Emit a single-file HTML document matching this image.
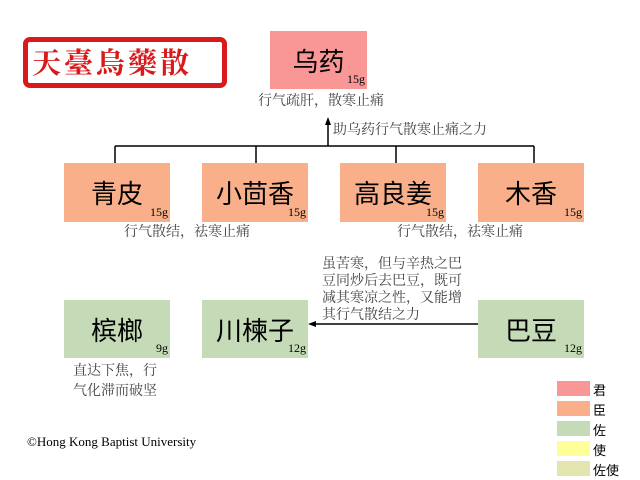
<!DOCTYPE html>
<html><head><meta charset="utf-8"><style>
body{margin:0;width:640px;height:480px;background:#fff;position:relative;overflow:hidden;font-family:"Liberation Serif","Noto Serif CJK SC",serif}
.b{position:absolute;font-family:"Liberation Sans","Noto Sans CJK SC",sans-serif;font-size:26px;color:#000;display:flex;align-items:center;justify-content:center}
.g{position:absolute;right:2px;bottom:2px;font-family:"Liberation Serif",serif;font-size:12px}
.t{position:absolute;font-size:14px;color:#444;font-family:"Liberation Serif","Noto Serif CJK SC",serif;line-height:20px;white-space:nowrap}
.r{background:#f99696}.o{background:#f9b08a}.gr{background:#c5dab6}
.l{position:absolute;left:557px;width:33px;height:15px}
.lt{position:absolute;left:593px;font-size:13px;font-family:"Liberation Sans","Noto Sans CJK SC",sans-serif}
</style></head><body>
<div style="position:absolute;left:23px;top:37px;width:204px;height:51px;border:5px solid #d81a1a;border-radius:7px;box-sizing:border-box"></div>
<div style="position:absolute;left:32px;top:42px;width:190px;height:40px;font-family:'Noto Serif CJK SC',serif;font-size:29px;font-weight:bold;color:#d81a1a;letter-spacing:3px;line-height:40px">天臺烏藥散</div>
<div class="b r" style="left:270px;top:31px;width:97px;height:58px">乌药<span class="g">15g</span></div>
<div class="t" style="left:258px;top:92px">行气疏肝，散寒止痛</div>
<svg style="position:absolute;left:0;top:0" width="640" height="480">
<g stroke="#000" stroke-width="1.5" fill="none">
<line x1="328" y1="146" x2="328" y2="124"/>
<line x1="115" y1="146" x2="534" y2="146"/>
<line x1="115" y1="146" x2="115" y2="163"/><line x1="256" y1="146" x2="256" y2="163"/>
<line x1="396" y1="146" x2="396" y2="163"/><line x1="534" y1="146" x2="534" y2="163"/>
<line x1="478" y1="324" x2="314" y2="324"/>
</g>
<polygon points="328,117 325,125 331,125" fill="#000"/>
<polygon points="308,324 316,321 316,327" fill="#000"/>
</svg>
<div class="t" style="left:333px;top:121px">助乌药行气散寒止痛之力</div>
<div class="b o" style="left:64px;top:163px;width:106px;height:59px">青皮<span class="g">15g</span></div>
<div class="b o" style="left:202px;top:163px;width:106px;height:59px">小茴香<span class="g">15g</span></div>
<div class="b o" style="left:340px;top:163px;width:106px;height:59px">高良姜<span class="g">15g</span></div>
<div class="b o" style="left:478px;top:163px;width:106px;height:59px">木香<span class="g">15g</span></div>
<div class="t" style="left:124px;top:223px">行气散结，祛寒止痛</div>
<div class="t" style="left:397px;top:223px">行气散结，祛寒止痛</div>
<div class="t" style="left:322px;top:256px;line-height:17px">虽苦寒，但与辛热之巴<br>豆同炒后去巴豆，既可<br>减其寒凉之性，又能增<br>其行气散结之力</div>
<div class="b gr" style="left:64px;top:300px;width:106px;height:58px">槟榔<span class="g">9g</span></div>
<div class="b gr" style="left:202px;top:300px;width:106px;height:58px">川楝子<span class="g">12g</span></div>
<div class="b gr" style="left:478px;top:300px;width:106px;height:58px">巴豆<span class="g">12g</span></div>
<div class="t" style="left:73px;top:362px">直达下焦，行<br>气化滞而破坚</div>
<div style="position:absolute;left:27px;top:434px;font-size:13px">©Hong Kong Baptist University</div>
<div class="l" style="top:381px;background:#f99696"></div><div class="lt" style="top:380px">君</div>
<div class="l" style="top:401px;background:#f9b08a"></div><div class="lt" style="top:400px">臣</div>
<div class="l" style="top:421px;background:#c5dab6"></div><div class="lt" style="top:420px">佐</div>
<div class="l" style="top:441px;background:#ffff99"></div><div class="lt" style="top:440px">使</div>
<div class="l" style="top:461px;background:#e3e5ae"></div><div class="lt" style="top:460px">佐使</div>
</body></html>
